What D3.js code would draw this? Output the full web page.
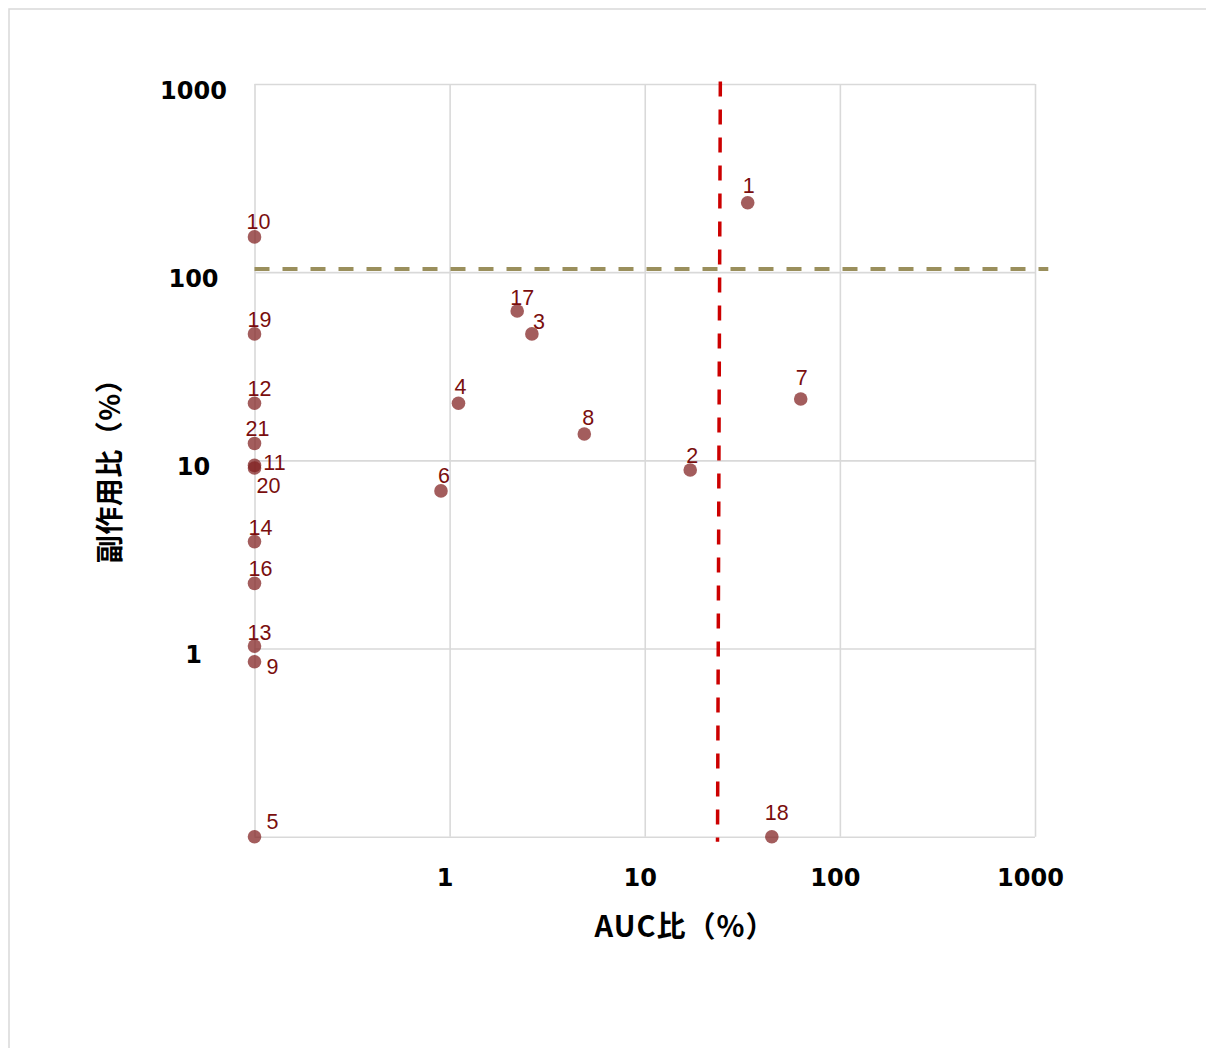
<!DOCTYPE html>
<html>
<head>
<meta charset="utf-8">
<script src="https://cdn.jsdelivr.net/npm/d3@7"></script>
<style>
  html, body { margin: 0; padding: 0; background: #ffffff; }
  svg { display: block; }
</style>
</head>
<body>
<svg id="chart" width="1206" height="1048"></svg>
<script>
// ---- Data ----
const pointIds   = [1, 2, 3, 4, 5, 6, 7, 8, 9, 10, 11, 12, 13, 14, 16, 17, 18, 19, 20, 21];
const aucRatio   = [33.7, 17.1, 2.64, 1.11, 0.1, 0.903, 63.0, 4.90, 0.1, 0.1, 0.1, 0.1, 0.1, 0.1, 0.1, 2.22, 44.8, 0.1, 0.1, 0.1];
const sideRatio  = [234, 8.89, 47.0, 20.1, 0.1, 6.88, 21.2, 13.8, 0.851, 154, 9.4, 20.1, 1.03, 3.70, 2.22, 62.2, 0.1, 47.0, 9.1, 12.3];

const xTickValues = [0.1, 1, 10, 100, 1000];
const xTickLabels = ["", "1", "10", "100", "1000"];
const yTickValues = [0.1, 1, 10, 100, 1000];
const yTickLabels = ["", "1", "10", "100", "1000"];

// reference lines (data coordinates)
const hLineY  = [104, 104];
const hLineX  = [0.1, 1170];
const vLineX  = [24.4, 23.6];
const vLineY  = [1030, 0.094];

const xTitle = "AUC比（%）";
const yTitle = "副作用比（%）";

// ---- Styles / layout ----
const plot = { left: 254.5, right: 1035, top: 84, bottom: 836.7 };
const labelOffsets = {
  1: [1, -10], 2: [2, -7], 3: [7, -5], 4: [2, -9], 5: [18, -8], 6: [3, -8],
  7: [1, -14], 8: [4, -9], 9: [18, 12], 10: [4, -8], 11: [20, 5], 12: [5, -7],
  13: [5, -6], 14: [6, -7], 16: [6, -7], 17: [5, -6], 18: [5, -17], 19: [5, -7],
  20: [14, 25], 21: [3, -7]
};

const svg = d3.select("#chart");
svg.append("rect").attr("x", 0).attr("y", 0).attr("width", 1206).attr("height", 1048).attr("fill", "#fff");
// outer chart frame (right/bottom off-canvas)
svg.append("rect").attr("x", 9).attr("y", 9).attr("width", 1240).attr("height", 1100)
  .attr("fill", "none").attr("stroke", "#d9d9d9").attr("stroke-width", 1.5);

const x = d3.scaleLog().domain([0.1, 1000]).range([plot.left, plot.right]);
const y = d3.scaleLog().domain([0.1, 1000]).range([plot.bottom, plot.top]);

// X axis with gridlines
const gx = svg.append("g").attr("transform", `translate(0,${plot.bottom})`)
  .call(d3.axisBottom(x).tickValues(xTickValues)
    .tickFormat((d, i) => xTickLabels[i])
    .tickSize(-(plot.bottom - plot.top)).tickPadding(0));
gx.select(".domain").remove();
gx.selectAll(".tick line").attr("stroke", "#d9d9d9").attr("stroke-width", 1.6);
gx.selectAll(".tick text")
  .attr("font-family", "'DejaVu Sans', Verdana, sans-serif")
  .attr("font-weight", "bold").attr("font-size", 24).attr("fill", "#000")
  .attr("text-anchor", "middle").attr("x", -5).attr("y", 49).attr("dy", 0);

// Y axis with gridlines
const gy = svg.append("g").attr("transform", `translate(${plot.left},0)`)
  .call(d3.axisLeft(y).tickValues(yTickValues)
    .tickFormat((d, i) => yTickLabels[i])
    .tickSize(-(plot.right - plot.left)).tickPadding(0));
gy.select(".domain").remove();
gy.selectAll(".tick line").attr("stroke", "#d9d9d9").attr("stroke-width", 1.6);
gy.selectAll(".tick text")
  .attr("font-family", "'DejaVu Sans', Verdana, sans-serif")
  .attr("font-weight", "bold").attr("font-size", 24).attr("fill", "#000")
  .attr("text-anchor", "middle").attr("x", -61).attr("y", 14).attr("dy", 0);

// Reference lines
const lineGen = d3.line().x(d => x(d[0])).y(d => y(d[1]));
svg.append("path")
  .datum(hLineX.map((v, i) => [v, hLineY[i]]))
  .attr("d", lineGen).attr("fill", "none")
  .attr("stroke", "#9a8f5c").attr("stroke-width", 4).attr("stroke-dasharray", "15,13");
svg.append("path")
  .datum(vLineX.map((v, i) => [v, vLineY[i]]))
  .attr("d", lineGen).attr("fill", "none")
  .attr("stroke", "#cc0000").attr("stroke-width", 3.5).attr("stroke-dasharray", "15,13");

// Points
const pts = pointIds.map((id, i) => ({ id, x: aucRatio[i], y: sideRatio[i] }));
svg.append("g").selectAll("circle").data(pts).join("circle")
  .attr("cx", d => x(d.x)).attr("cy", d => y(d.y)).attr("r", 6.8)
  .attr("fill", "#7f1f1f").attr("fill-opacity", 0.72);

// Labels
svg.append("g").selectAll("text").data(pts).join("text")
  .attr("x", d => x(d.x) + (labelOffsets[d.id] || [5, -7])[0])
  .attr("y", d => y(d.y) + (labelOffsets[d.id] || [5, -7])[1])
  .attr("text-anchor", "middle")
  .attr("font-family", "'Liberation Sans', Arial, sans-serif")
  .attr("font-size", 21.5).attr("fill", "#7a0e0e")
  .text(d => d.id);

// Axis titles
svg.append("text").attr("x", 685).attr("y", 937).attr("text-anchor", "middle")
  .attr("font-family", "'Noto Sans CJK JP', sans-serif").attr("font-weight", "bold")
  .attr("font-size", 29).attr("letter-spacing", 1).attr("fill", "#000").text(xTitle);
svg.append("text").attr("transform", "translate(120,464) rotate(-90)").attr("text-anchor", "middle")
  .attr("font-family", "'Noto Sans CJK JP', sans-serif").attr("font-weight", "bold")
  .attr("font-size", 28).attr("letter-spacing", 0.5).attr("fill", "#000").text(yTitle);
</script>
</body>
</html>
